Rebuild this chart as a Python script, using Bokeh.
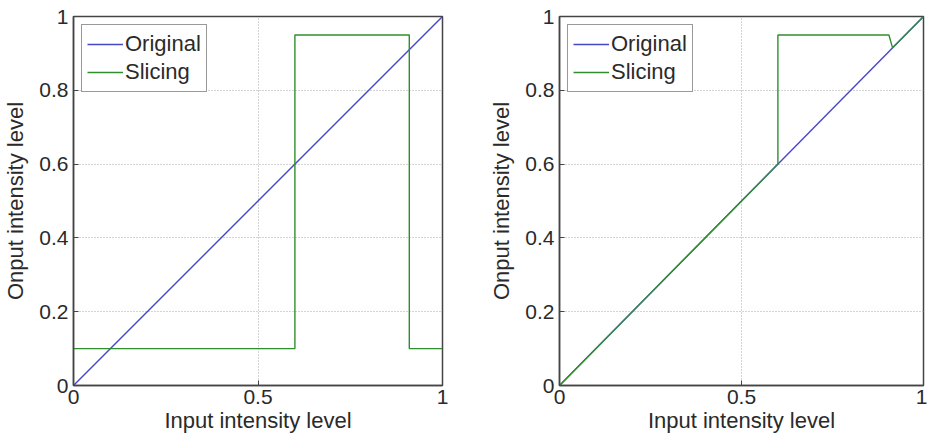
from bokeh.plotting import figure
from bokeh.layouts import row
from bokeh.models import Range1d, FixedTicker, Legend, LegendItem
from bokeh.embed import file_html
from bokeh.resources import INLINE

# ---- data ----
orig_x = [0.0, 1.0]
orig_y = [0.0, 1.0]

slice1_x = [0.0, 0.6, 0.6, 0.91, 0.91, 1.0]
slice1_y = [0.1, 0.1, 0.95, 0.95, 0.1, 0.1]

slice2_x = [0.0, 0.6, 0.6, 0.905, 0.915, 1.0]
slice2_y = [0.0, 0.6, 0.95, 0.95, 0.915, 1.0]

x_ticks = [0, 0.5, 1]
x_tick_labels = {0: "0", 0.5: "0.5", 1: "1"}
y_ticks = [0, 0.2, 0.4, 0.6, 0.8, 1]
y_tick_labels = {0: "0", 0.2: "0.2", 0.4: "0.4", 0.6: "0.6", 0.8: "0.8", 1: "1"}

x_label = "Input intensity level"
y_label = "Onput intensity level"
series_names = ["Original", "Slicing"]

BLUE = "#4646c8"
GREEN = "#2f8f2f"
FONT = "Liberation Sans"
TXT = "#2a2a2a"
EDGE = "#444444"


def make_panel(sx, sy, fw, lb, rb):
    p = figure(output_backend="svg", toolbar_location=None,
               frame_width=fw, frame_height=369,
               min_border_left=lb, min_border_right=rb,
               min_border_top=16, min_border_bottom=54,
               x_range=Range1d(0, 1), y_range=Range1d(0, 1))
    p.background_fill_color = "white"
    p.border_fill_color = "white"
    p.outline_line_color = EDGE
    p.outline_line_width = 1.5

    for ax, ticks, labels, lab in ((p.xaxis[0], x_ticks, x_tick_labels, x_label),
                                   (p.yaxis[0], y_ticks, y_tick_labels, y_label)):
        ax.ticker = FixedTicker(ticks=ticks)
        ax.major_label_overrides = labels
        ax.minor_tick_line_color = None
        ax.major_tick_out = 0
        ax.major_tick_in = 5
        ax.major_tick_line_color = EDGE
        ax.axis_line_color = EDGE
        ax.axis_line_width = 1.5
        ax.major_label_text_font = FONT
        ax.major_label_text_font_size = "21px"
        ax.major_label_text_color = TXT
        ax.axis_label = lab
        ax.axis_label_text_font = FONT
        ax.axis_label_text_font_size = "22px"
        ax.axis_label_text_font_style = "normal"
        ax.axis_label_text_color = TXT
    p.xaxis.major_label_standoff = 4
    p.xaxis.axis_label_standoff = 1
    p.yaxis.major_label_standoff = 5
    p.yaxis.axis_label_standoff = 8

    for g in (p.xgrid[0], p.ygrid[0]):
        g.grid_line_color = "#a8a8a8"
        g.grid_line_dash = "1 2"
        g.grid_line_width = 1
    p.xgrid.ticker = FixedTicker(ticks=x_ticks)
    p.ygrid.ticker = FixedTicker(ticks=y_ticks)

    r1 = p.line(orig_x, orig_y, line_color=BLUE, line_width=1.4)
    r2 = p.line(sx, sy, line_color=GREEN, line_width=1.4)

    leg = Legend(items=[LegendItem(label=series_names[0], renderers=[r1]),
                        LegendItem(label=series_names[1], renderers=[r2])],
                 location="top_left")
    leg.margin = 8
    leg.padding = 5
    leg.spacing = 0
    leg.glyph_width = 36
    leg.glyph_height = 28
    leg.label_height = 28
    leg.label_standoff = 2
    leg.label_text_font = FONT
    leg.label_text_font_size = "22px"
    leg.label_text_color = TXT
    leg.border_line_color = "#333333"
    leg.border_line_width = 1.5
    leg.background_fill_color = "white"
    leg.background_fill_alpha = 1
    p.add_layout(leg)
    return p


p1 = make_panel(slice1_x, slice1_y, 369, 73, 44)
p2 = make_panel(slice2_x, slice2_y, 364, 72, 4)

layout = row(p1, p2)
open("out.html", "w").write(file_html(layout, INLINE))
